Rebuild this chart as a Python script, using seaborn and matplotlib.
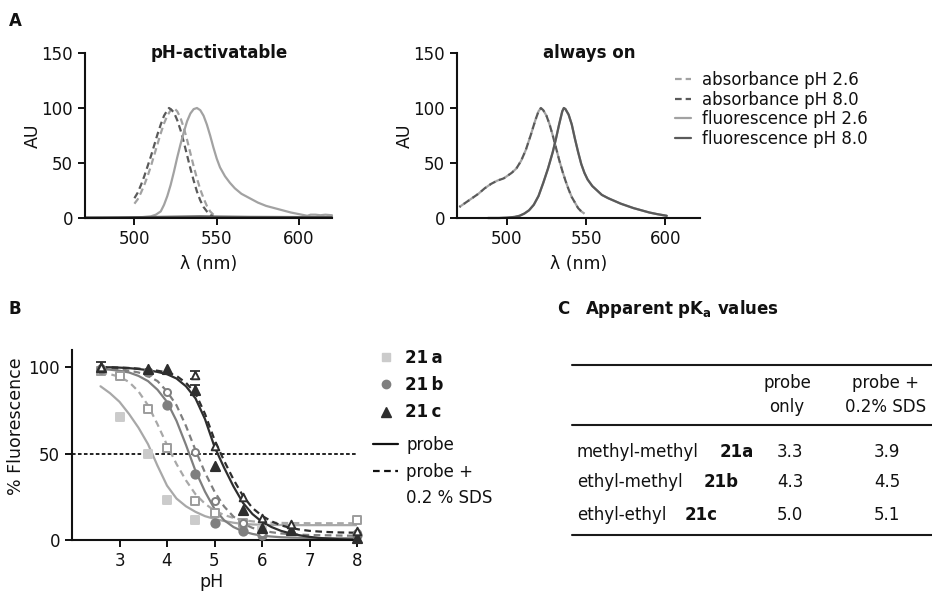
import matplotlib
matplotlib.use("Agg")
import matplotlib.pyplot as plt
from matplotlib.lines import Line2D
import pandas as pd
import seaborn as sns

# ================= DATA =================
# ---- Panel A: pH-activatable spectra (AU vs wavelength, nm) ----
act_abs26_wl = [500, 502, 504, 506, 508, 510, 512, 514, 516, 518, 520, 522, 524, 526, 528,
                530, 532, 534, 536, 538, 540, 542, 544, 546, 548, 550]
act_abs26_au = [13, 17, 23, 30, 38, 47, 57, 67, 77, 86, 93, 98, 100, 97, 91,
                82, 71, 59, 47, 36, 26, 18, 11, 6, 3, 1]
act_abs80_wl = [500, 502, 504, 506, 508, 510, 512, 514, 516, 518, 520, 521, 522, 524, 526,
                528, 530, 532, 534, 536, 538, 540, 542, 544, 546, 548]
act_abs80_au = [18, 23, 30, 38, 47, 56, 66, 76, 85, 93, 98, 100, 99, 96, 89,
                80, 69, 57, 45, 34, 24, 16, 10, 6, 3, 1]
act_fl26_wl = [470, 480, 490, 500, 505, 510, 513, 516, 518, 520, 522, 524, 526, 528, 530,
               532, 534, 536, 538, 540, 542, 544, 546, 548, 550, 552, 555, 558, 561, 565,
               570, 575, 580, 585, 590, 595, 600, 605, 607, 610, 613, 616, 620]
act_fl26_au = [0, 0, 0.3, 0.5, 0.8, 1.5, 3, 6, 12, 20, 30, 42, 55, 67, 78,
               88, 95, 99, 100, 98, 93, 85, 75, 64, 54, 46, 38, 32, 27, 22,
               18, 14, 11, 9, 7, 5, 3.5, 2, 3, 3, 2.5, 3, 2.5]
act_fl80_wl = [470, 490, 510, 530, 540, 550, 570, 590, 610, 620]
act_fl80_au = [0.5, 0.6, 0.9, 1.3, 1.5, 1.3, 1.0, 0.9, 0.8, 0.8]

# ---- Panel A: always-on spectra ----
on_abs26_wl = [470, 474, 478, 482, 486, 490, 494, 498, 500, 503, 506, 509, 512, 515, 518,
               520, 521.5, 523, 525, 527, 529, 531, 533, 535, 537, 539, 541, 543, 545, 547, 549]
on_abs26_au = [10, 14, 18, 22, 27, 31, 34, 36, 38, 41, 45, 52, 62, 75, 89,
               97, 100, 98, 93, 85, 75, 64, 53, 43, 34, 26, 19, 14, 9, 6, 4]
on_abs80_wl = [470, 474, 478, 482, 486, 490, 494, 498, 500, 503, 506, 509, 512, 515, 518,
               520, 521.5, 523, 525, 527, 529, 531, 533, 535, 537, 539, 541, 543, 545, 547, 549]
on_abs80_au = [10, 14, 18, 22, 27, 31, 34, 36, 38, 41, 45, 52, 62, 75, 89,
               97, 100, 98, 93, 85, 75, 64, 53, 43, 34, 26, 19, 14, 9, 6, 4]
on_fl26_wl = [488, 495, 500, 505, 508, 511, 514, 517, 520, 523, 526, 529, 531, 533, 535,
              536, 537, 539, 541, 543, 545, 547, 549, 551, 554, 557, 560, 564, 568, 572,
              576, 580, 585, 590, 595, 601]
on_fl26_au = [0, 0, 0.3, 1, 2, 4, 7, 12, 20, 32, 45, 60, 72, 85, 97,
              100, 99, 94, 85, 72, 60, 49, 41, 35, 29, 25, 21, 18, 15.5, 13,
              11, 9, 7, 5, 3.5, 2]
on_fl80_wl = on_fl26_wl
on_fl80_au = on_fl26_au

spectra_labels = ["absorbance pH 2.6", "absorbance pH 8.0",
                  "fluorescence pH 2.6", "fluorescence pH 8.0"]

# ---- Panel B: % fluorescence vs pH ----
ph_fit = [2.6, 2.8, 3.0, 3.2, 3.4, 3.6, 3.8, 4.0, 4.2, 4.4, 4.6, 4.8, 5.0, 5.2,
          5.4, 5.6, 5.8, 6.0, 6.2, 6.4, 6.6, 6.8, 7.0, 7.2, 7.4, 7.6, 7.8, 8.0]
fit_a_probe = [89, 85, 80, 73, 65, 55.5, 43, 31.5, 24, 19.5, 16.3, 13.8, 12.2, 11,
               10, 9.3, 9, 8.8, 8.7, 8.7, 8.6, 8.6, 8.6, 8.6, 8.6, 8.6, 8.6, 8.6]
fit_a_sds = [97, 96, 94.5, 91.5, 86, 78, 67, 55, 44, 34.5, 26.5, 21, 17, 14.5,
             12.8, 11.5, 10.8, 10.3, 10, 9.9, 9.8, 9.8, 9.7, 9.7, 9.7, 9.7, 9.7, 9.7]
fit_b_probe = [99, 98.6, 98, 97, 95, 92, 87, 80, 69, 55, 40, 28, 18, 11.5,
               7.5, 5, 3.5, 2.5, 2, 1.6, 1.4, 1.3, 1.2, 1.1, 1.1, 1, 1, 1]
fit_b_sds = [99.5, 99.2, 99, 98, 97, 95, 92, 86, 78, 66, 52, 39, 28, 19.5,
             13.5, 9.5, 7, 5.5, 4.5, 3.8, 3.4, 3.1, 2.9, 2.8, 2.7, 2.6, 2.5, 2.5]
fit_c_probe = [100, 100, 99.8, 99.5, 99, 98.3, 97.3, 96, 93.5, 89, 82, 70, 54, 42,
               31, 21.5, 15, 10.5, 7.5, 5.3, 3.8, 2.7, 1.8, 1.2, 0.8, 0.5, 0.3, 0.2]
fit_c_sds = [100, 100, 99.8, 99.6, 99.2, 98.7, 98, 97, 95, 91, 85, 73, 58, 46,
             35, 25.5, 18.5, 14, 10.8, 8.5, 7, 6, 5.3, 4.9, 4.6, 4.4, 4.3, 4.2]

pts_a_probe_ph = [2.6, 3.0, 3.6, 4.0, 4.6, 6.0]
pts_a_probe_y = [98, 71.5, 50, 23, 11.5, 6]
pts_a_sds_ph = [2.6, 3.0, 3.6, 4.0, 4.6, 5.0, 5.6, 8.0]
pts_a_sds_y = [98, 95, 76, 53, 22.6, 15.5, 10, 11.6]
pts_b_probe_ph = [2.6, 3.6, 4.0, 4.6, 5.0, 5.6, 6.0, 8.0]
pts_b_probe_y = [99, 97, 78, 38, 9.7, 5.4, 3, 3]
pts_b_sds_ph = [2.6, 4.0, 4.6, 5.0, 5.6, 6.0, 8.0]
pts_b_sds_y = [99, 85.5, 51, 22.6, 10, 4, 4]
pts_c_probe_ph = [2.6, 3.6, 4.0, 4.6, 5.0, 5.6, 6.0, 6.6, 8.0]
pts_c_probe_y = [100, 99, 99, 87, 43, 17.4, 7, 6, 1]
pts_c_sds_ph = [2.6, 4.6, 5.0, 5.6, 6.0, 6.6, 8.0]
pts_c_sds_y = [100, 95.5, 54.6, 25, 12.7, 9.4, 5]
err_ph = [2.6, 4.6, 4.6]
err_y = [100, 95.5, 87]
err_sd = [3, 2.5, 3]

compound_labels = ["21\u2009a", "21\u2009b", "21\u2009c"]
line_labels = ["probe", "probe +"]
line_label_extra = "0.2 % SDS"

# ---- Panel C: table ----
row_names = ["methyl-methyl", "ethyl-methyl", "ethyl-ethyl"]
row_compounds = ["21a", "21b", "21c"]
pka_probe = [3.3, 4.3, 5.0]
pka_sds = [3.9, 4.5, 5.1]
col_headers = ["probe\nonly", "probe +\n0.2% SDS"]

# ================= STYLE =================
sns.set_theme(style="ticks", rc={
    "axes.edgecolor": "#111111", "axes.linewidth": 1.5,
    "xtick.color": "#111111", "ytick.color": "#111111",
    "xtick.major.width": 1.4, "ytick.major.width": 1.4,
    "xtick.major.size": 5, "ytick.major.size": 5,
    "xtick.labelsize": 12, "ytick.labelsize": 12,
    "axes.labelsize": 12.5, "text.color": "#111111", "axes.labelcolor": "#111111",
})
plt.rcParams["font.family"] = ["DejaVu Sans"]
plt.rcParams["mathtext.fontset"] = "dejavusans"

LIGHT = "#a2a2a2"
DARK = "#5a5a5a"
DASH_A = (0, (3, 1.8))
DASH_A_OFF = (2.4, (3, 1.8))
COL_A_FILL = "#cbcbcb"
COL_A_LINE = "#a8a8a8"
COL_B = "#7f7f7f"
COL_C = "#2e2e2e"
DASH_B = (0, (3, 2))

W, H = 932, 592
fig = plt.figure(figsize=(W / 100, H / 100), dpi=100)


def rect(x0, y0, x1, y1):
    return [x0 / W, 1 - y1 / H, (x1 - x0) / W, (y1 - y0) / H]


def fx(x):
    return x / W


def fy(y):
    return 1 - y / H


axA1 = fig.add_axes(rect(85, 53, 332, 218))
axA2 = fig.add_axes(rect(457, 53, 700, 218))
axB = fig.add_axes(rect(72, 350, 357, 540))

# ================= PANEL A =================
rows = []
for panel, cname, wl, au in [
    ("act", "abs26", act_abs26_wl, act_abs26_au),
    ("act", "abs80", act_abs80_wl, act_abs80_au),
    ("act", "fl26", act_fl26_wl, act_fl26_au),
    ("act", "fl80", act_fl80_wl, act_fl80_au),
    ("on", "abs26", on_abs26_wl, on_abs26_au),
    ("on", "abs80", on_abs80_wl, on_abs80_au),
    ("on", "fl26", on_fl26_wl, on_fl26_au),
    ("on", "fl80", on_fl80_wl, on_fl80_au),
]:
    for w, a in zip(wl, au):
        rows.append({"panel": panel, "curve": cname, "wl": w, "au": a})
spec = pd.DataFrame(rows)

curve_style = {
    "abs26": dict(color=LIGHT, linestyle=DASH_A),
    "abs80": dict(color=DARK, linestyle=DASH_A),
    "fl26": dict(color=LIGHT, linestyle="-"),
    "fl80": dict(color=DARK, linestyle="-"),
}

for ax, panel, title in [(axA1, "act", "pH-activatable"), (axA2, "on", "always on")]:
    for cname in ["abs26", "abs80", "fl26", "fl80"]:
        d = spec[(spec.panel == panel) & (spec.curve == cname)]
        st = dict(curve_style[cname])
        if panel == "on" and cname == "abs80":
            st["linestyle"] = DASH_A_OFF
        sns.lineplot(data=d, x="wl", y="au", ax=ax, lw=1.6, clip_on=False, **st)
    ax.set_ylim(0, 150)
    ax.set_yticks([0, 50, 100, 150])
    ax.set_xticks([500, 550, 600])
    ax.set_xlabel("λ (nm)")
    ax.set_ylabel("AU")
    ax.xaxis.set_label_coords(0.5, -0.222)
    ax.text(0.545, 1.0, title, transform=ax.transAxes, ha="center", va="center",
            fontsize=12, fontweight="bold")
    sns.despine(ax=ax)

axA1.set_xlim(470, 620)
axA2.set_xlim(468.5, 622)
axA1.yaxis.set_label_coords(-0.175, 0.5)
axA2.yaxis.set_label_coords(-0.178, 0.5)

handlesA = [Line2D([], [], lw=1.6, **curve_style[c]) for c in ["abs26", "abs80", "fl26", "fl80"]]
axA2.legend(handlesA, spectra_labels, loc="upper left", bbox_to_anchor=(fx(675), fy(71)),
            bbox_transform=fig.transFigure, frameon=False, fontsize=12,
            handlelength=0.95, handletextpad=0.7, labelspacing=0.1,
            borderpad=0, borderaxespad=0)

# ================= PANEL B =================
axB.axhline(50, color="#111111", lw=1.3, linestyle=(0, (2, 1.3)), zorder=1)

fits = [
    (fit_a_probe, COL_A_LINE, "-"),
    (fit_a_sds, COL_A_LINE, DASH_B),
    (fit_b_probe, COL_B, "-"),
    (fit_b_sds, COL_B, DASH_B),
    (fit_c_probe, COL_C, "-"),
    (fit_c_sds, COL_C, DASH_B),
]
for yv, col, ls in fits:
    sns.lineplot(x=ph_fit, y=yv, ax=axB, color=col, linestyle=ls, lw=1.6, zorder=2)

axB.errorbar(err_ph, err_y, yerr=err_sd, fmt="none", ecolor=COL_C, elinewidth=1.3,
             capsize=3.5, capthick=1.3, zorder=3)

pts = [
    (pts_a_probe_ph, pts_a_probe_y, "s", COL_A_FILL, COL_A_FILL, 40),
    (pts_a_sds_ph, pts_a_sds_y, "s", "white", "#9c9c9c", 28),
    (pts_b_probe_ph, pts_b_probe_y, "o", COL_B, COL_B, 36),
    (pts_b_sds_ph, pts_b_sds_y, "o", "white", COL_B, 26),
    (pts_c_probe_ph, pts_c_probe_y, "^", COL_C, COL_C, 44),
    (pts_c_sds_ph, pts_c_sds_y, "^", "white", COL_C, 30),
]
for xv, yv, mk, fc, ec, sz in pts:
    sns.scatterplot(x=xv, y=yv, ax=axB, marker=mk, color=fc, edgecolor=ec,
                    linewidth=1.4, s=sz, zorder=4, clip_on=False)

axB.set_xlim(2, 8)
axB.set_ylim(0, 110)
axB.set_xticks([3, 4, 5, 6, 7, 8])
axB.set_yticks([0, 50, 100])
axB.set_xlabel("pH")
axB.set_ylabel("% Fluorescence")
axB.xaxis.set_label_coords(0.49, -0.175)
axB.yaxis.set_label_coords(-0.165, 0.6)
sns.despine(ax=axB)

mk_handles = [
    Line2D([], [], marker="s", ls="none", color=COL_A_FILL, markersize=5.5),
    Line2D([], [], marker="o", ls="none", color=COL_B, markersize=6),
    Line2D([], [], marker="^", ls="none", color=COL_C, markersize=6.5),
]
legB1 = axB.legend(mk_handles, compound_labels, loc="upper left",
                   bbox_to_anchor=(fx(378), fy(349)), bbox_transform=fig.transFigure,
                   frameon=False, fontsize=12, handlelength=1.0, handletextpad=0.6,
                   labelspacing=0.55, borderpad=0, borderaxespad=0)
for t in legB1.get_texts():
    t.set_fontweight("bold")
axB.add_artist(legB1)
ln_handles = [Line2D([], [], color="#111111", lw=1.6, ls="-"),
              Line2D([], [], color="#111111", lw=1.6, ls=DASH_B)]
axB.legend(ln_handles, line_labels, loc="upper left",
           bbox_to_anchor=(fx(373), fy(436)), bbox_transform=fig.transFigure,
           frameon=False, fontsize=12, handlelength=1.5, handletextpad=0.5,
           labelspacing=0.55, borderpad=0, borderaxespad=0)
fig.text(fx(406), fy(498), line_label_extra, fontsize=12, ha="left", va="center")

# ================= PANEL C =================
fig.text(fx(557), fy(309), "C", fontsize=12, fontweight="bold", va="center")
fig.text(fx(585), fy(309), r"Apparent p$\mathbf{K}_\mathbf{a}$ values", fontsize=12,
         fontweight="bold", va="center")
for yl in [365, 425, 535]:
    fig.add_artist(Line2D([fx(572), fx(932)], [fy(yl), fy(yl)], color="#1a1a1a", lw=1.5,
                          transform=fig.transFigure))
header_x = [787, 886]
for hx, htxt in zip(header_x, col_headers):
    fig.text(fx(hx), fy(395), htxt, fontsize=12, ha="center", va="center",
             multialignment="center", linespacing=1.45)
row_y = [452, 482, 515]
comp_x = [720, 704, 685]
for yv, name, comp, cx, p1, p2 in zip(row_y, row_names, row_compounds, comp_x,
                                        pka_probe, pka_sds):
    fig.text(fx(577), fy(yv), name, fontsize=12, ha="left", va="center")
    fig.text(fx(cx), fy(yv), comp, fontsize=12, ha="left", va="center", fontweight="bold")
    fig.text(fx(790), fy(yv), f"{p1:.1f}", fontsize=12, ha="center", va="center")
    fig.text(fx(887), fy(yv), f"{p2:.1f}", fontsize=12, ha="center", va="center")

# panel letters
fig.text(fx(9), fy(21), "A", fontsize=12, fontweight="bold", va="center")
fig.text(fx(9), fy(309), "B", fontsize=12, fontweight="bold", va="center")

fig.savefig("out.png", dpi=100)
